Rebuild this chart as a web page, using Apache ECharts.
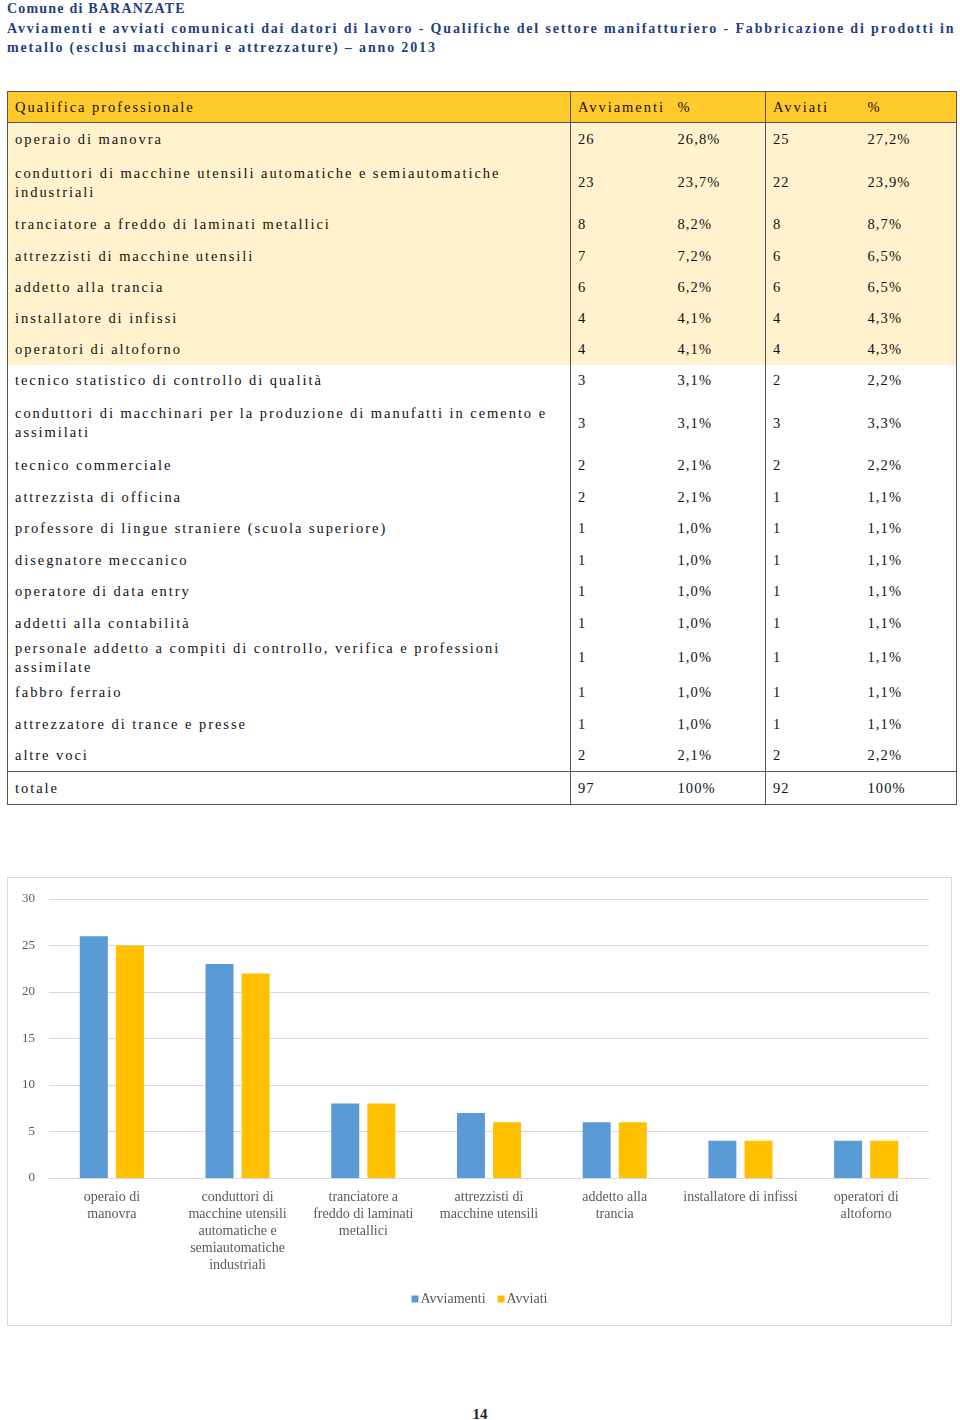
<!DOCTYPE html>
<html>
<head>
<meta charset="utf-8">
<script src="https://cdn.jsdelivr.net/npm/echarts@6/dist/echarts.min.js"></script>
<style>
  html, body { margin: 0; padding: 0; background: #fff; }
  body { width: 960px; height: 1420px; position: relative; overflow: hidden;
         font-family: "Liberation Serif", "DejaVu Serif", serif; }
  #title { position: absolute; left: 7px; top: -1px; width: 955px; color: #1F3F7F;
           font-weight: bold; font-size: 14px; line-height: 19.5px; letter-spacing: 1.85px; white-space: nowrap; }
  #title .t1 { letter-spacing: 1.2px; }
  #tbl { position: absolute; left: 7px; top: 91px; width: 949px; border-collapse: collapse;
         font-size: 14.5px; letter-spacing: 1.1px; color: #111; table-layout: fixed; }
  #tbl td { padding: 0 0 0 7px; vertical-align: middle; line-height: 19px; }
  #tbl td.txt { letter-spacing: 1.95px; padding-right: 20px; }
  #tbl tr.hd td { letter-spacing: 1.95px; }
  #tbl tr.hl td { background: #FFF2CC; }
  #tbl tr.hd td { background: #FFCA2C; border-bottom: 1.5px solid #555; }
  #tbl tr.tot td { border-top: 1.5px solid #555; }
  #tbl { border: 1.5px solid #555; }
  #tbl td.c1 { border-right: 1.5px solid #555; }
  #tbl td.c3 { border-right: 1.5px solid #555; }
  #chart { position: absolute; left: 7px; top: 877px; width: 945px; height: 449px;
           box-sizing: border-box; border: 1.5px solid #D9D9D9; }
  #page { position: absolute; left: 0; width: 960px; top: 1406px; text-align: center;
          font-size: 15px; font-weight: bold; color: #222; }
</style>
</head>
<body>
<div id="title"><span class="t1">Comune di BARANZATE</span><br>Avviamenti e avviati comunicati dai datori di lavoro - Qualifiche del settore manifatturiero - Fabbricazione di prodotti in<br>metallo (esclusi macchinari e attrezzature) – anno 2013</div>
<table id="tbl"><colgroup><col style="width:563px"><col style="width:100px"><col style="width:95px"><col style="width:95px"><col style="width:96px"></colgroup><tbody id="tb"></tbody></table>
<div id="chart"></div>
<div id="page">14</div>
<script>
// ---- Table data ----
const qualifiche = [
  "operaio di manovra",
  "conduttori di macchine utensili automatiche e semiautomatiche industriali",
  "tranciatore a freddo di laminati metallici",
  "attrezzisti di macchine utensili",
  "addetto alla trancia",
  "installatore di infissi",
  "operatori di altoforno",
  "tecnico statistico di controllo di qualità",
  "conduttori di macchinari per la produzione di manufatti in cemento e assimilati",
  "tecnico commerciale",
  "attrezzista di officina",
  "professore di lingue straniere (scuola superiore)",
  "disegnatore meccanico",
  "operatore di data entry",
  "addetti alla contabilità",
  "personale addetto a compiti di controllo, verifica e professioni assimilate",
  "fabbro ferraio",
  "attrezzatore di trance e presse",
  "altre voci"
];
const avviamenti = [26, 23, 8, 7, 6, 4, 4, 3, 3, 2, 2, 1, 1, 1, 1, 1, 1, 1, 2];
const avviamentiPct = ["26,8%","23,7%","8,2%","7,2%","6,2%","4,1%","4,1%","3,1%","3,1%","2,1%","2,1%","1,0%","1,0%","1,0%","1,0%","1,0%","1,0%","1,0%","2,1%"];
const avviati = [25, 22, 8, 6, 6, 4, 4, 2, 3, 2, 1, 1, 1, 1, 1, 1, 1, 1, 2];
const avviatiPct = ["27,2%","23,9%","8,7%","6,5%","6,5%","4,3%","4,3%","2,2%","3,3%","2,2%","1,1%","1,1%","1,1%","1,1%","1,1%","1,1%","1,1%","1,1%","2,2%"];
const totale = ["totale", "97", "100%", "92", "100%"];
const header = ["Qualifica professionale", "Avviamenti", "%", "Avviati", "%"];

// ---- Chart data ----
const chartCategories = [
  "operaio di\nmanovra",
  "conduttori di\nmacchine utensili\nautomatiche e\nsemiautomatiche\nindustriali",
  "tranciatore a\nfreddo di laminati\nmetallici",
  "attrezzisti di\nmacchine utensili",
  "addetto alla\ntrancia",
  "installatore di infissi",
  "operatori di\naltoforno"
];
const chartAvviamenti = [26, 23, 8, 7, 6, 4, 4];
const chartAvviati = [25, 22, 8, 6, 6, 4, 4];
const yTicks = [0, 5, 10, 15, 20, 25, 30];

// ---- Build table ----
const rowHeights = [34, 52, 32, 31, 31, 31, 31, 32, 53, 32, 31, 32, 31, 32, 31, 38, 32, 31, 32];
const tb = document.getElementById('tb');
function addRow(cells, cls, h) {
  const tr = document.createElement('tr');
  if (cls) tr.className = cls;
  tr.style.height = h + 'px';
  cells.forEach((c, i) => {
    const td = document.createElement('td');
    td.textContent = c;
    if (i === 0) td.className = 'c1 txt';
    if (i === 2) td.className = 'c3';
    tr.appendChild(td);
  });
  tb.appendChild(tr);
}
addRow(header, 'hd', 31);
qualifiche.forEach((q, i) => {
  addRow([q, String(avviamenti[i]), avviamentiPct[i], String(avviati[i]), avviatiPct[i]], i < 7 ? 'hl' : '', rowHeights[i]);
});
addRow(totale, 'tot', 33);

// ---- Chart ----
const chart = echarts.init(document.getElementById('chart'), null, { renderer: 'canvas' });
const fontFam = '"Liberation Serif", "DejaVu Serif", serif';
chart.setOption({
  animation: false,
  textStyle: { fontFamily: fontFam },
  grid: { left: 41, right: 22, top: 21, bottom: 147, containLabel: false },
  legend: {
    data: ['Avviamenti', 'Avviati'],
    bottom: 14,
    left: 'center',
    icon: 'rect',
    itemWidth: 7,
    itemHeight: 7,
    itemGap: 12,
    textStyle: { color: '#595959', fontSize: 14, fontFamily: fontFam, padding: [0, 0, 0, -3] }
  },
  xAxis: {
    type: 'category',
    data: chartCategories,
    axisLine: { lineStyle: { color: '#D9D9D9', width: 1 } },
    axisTick: { show: false },
    axisLabel: { color: '#595959', fontSize: 14, lineHeight: 17, margin: 11, interval: 0, fontFamily: fontFam, align: 'center' }
  },
  yAxis: {
    type: 'value',
    min: 0, max: 30, interval: 5,
    axisLine: { show: false },
    axisTick: { show: false },
    splitLine: { lineStyle: { color: '#D9D9D9', width: 1 } },
    axisLabel: { color: '#595959', fontSize: 13, margin: 14, fontFamily: fontFam,
                 formatter: v => yTicks.includes(v) ? String(v) : '' }
  },
  series: [
    { name: 'Avviamenti', type: 'bar', data: chartAvviamenti, barWidth: 28, barGap: '29%',
      itemStyle: { color: '#5B9BD5' } },
    { name: 'Avviati', type: 'bar', data: chartAvviati, barWidth: 28,
      itemStyle: { color: '#FFC000' } }
  ]
});
</script>
</body>
</html>
